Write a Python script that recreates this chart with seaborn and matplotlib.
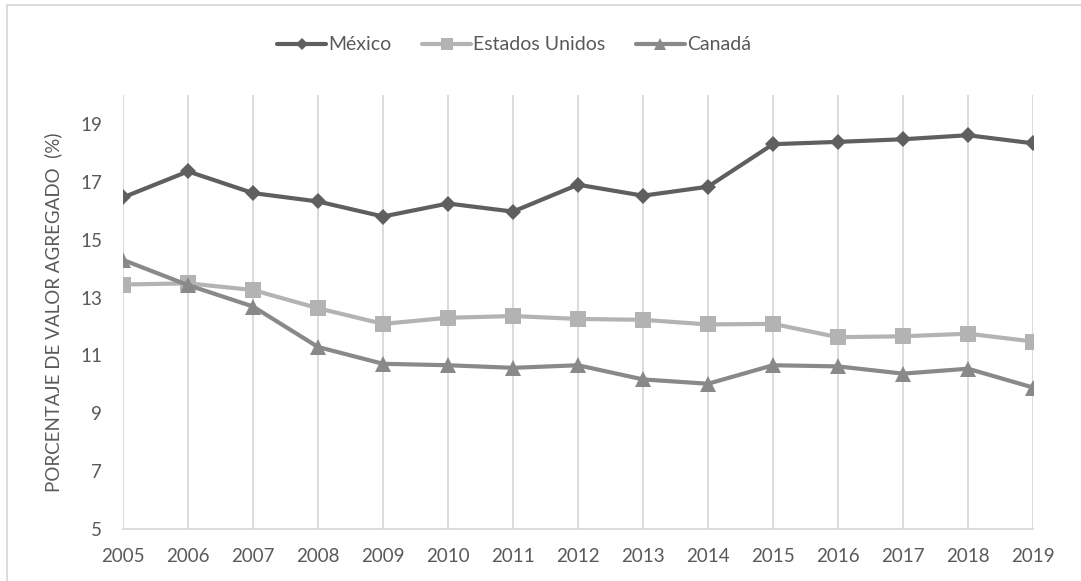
import matplotlib
matplotlib.use("Agg")
import matplotlib.pyplot as plt
from matplotlib.lines import Line2D
import seaborn as sns
import pandas as pd

# Value added share by country, 2005-2019 (%)
years = list(range(2005, 2020))
mexico = [16.46, 17.36, 16.61, 16.32, 15.80, 16.25, 15.97, 16.90,
          16.52, 16.83, 18.30, 18.38, 18.47, 18.61, 18.33]
estados_unidos = [13.45, 13.49, 13.26, 12.63, 12.09, 12.30, 12.36, 12.26,
                  12.23, 12.07, 12.09, 11.63, 11.66, 11.75, 11.48]
canada = [14.30, 13.43, 12.69, 11.29, 10.71, 10.66, 10.57, 10.66,
          10.17, 10.02, 10.66, 10.62, 10.37, 10.54, 9.89]
series_names = ["México", "Estados Unidos", "Canadá"]
y_ticks = [5, 7, 9, 11, 13, 15, 17, 19]

sns.set_theme(style="white")
plt.rcParams["font.family"] = ["Lato", "DejaVu Sans"]
TEXT = "#595959"
GRID = "#d9d9d9"

df = pd.DataFrame({
    "year": years * 3,
    "value": mexico + estados_unidos + canada,
    "country": [n for n in series_names for _ in years],
})

styles = {
    "México": dict(color="#5f5f5f", marker="D", ms=8.6),
    "Estados Unidos": dict(color="#b3b3b3", marker="s", ms=11.5),
    "Canadá": dict(color="#898989", marker="^", ms=12),
}

fig = plt.figure(figsize=(10.81, 5.81), dpi=100)
ax = fig.add_axes([123 / 1081, 1 - 529 / 581, (1033 - 123) / 1081, (529 - 95) / 581])

for name in series_names:
    st = styles[name]
    sns.lineplot(data=df[df["country"] == name], x="year", y="value",
                 color=st["color"], marker=st["marker"], markersize=st["ms"],
                 markeredgewidth=0, linewidth=3, ax=ax, legend=False,
                 zorder=3)

ax.set_xlim(2005, 2019)
ax.set_ylim(5, 20)
ax.set_xticks(years)
ax.set_xticklabels([str(y) for y in years])
ax.set_yticks(y_ticks)
ax.grid(axis="x", color=GRID, linewidth=1.3)
ax.grid(axis="y", visible=False)
for side in ["top", "right", "left"]:
    ax.spines[side].set_visible(False)
ax.spines["bottom"].set_color(GRID)
ax.spines["bottom"].set_linewidth(1.3)
ax.tick_params(axis="both", length=0, labelsize=13.5, colors=TEXT)
ax.tick_params(axis="y", pad=15)
ax.tick_params(axis="x", pad=14)
ax.set_xlabel("")
ax.set_ylabel("PORCENTAJE DE VALOR AGREGADO  (%)", fontsize=13.5, color=TEXT,
              labelpad=13)

handles = [Line2D([], [], color=styles[n]["color"], marker=styles[n]["marker"],
                  markersize=styles[n]["ms"] * 0.75, markeredgewidth=0,
                  linewidth=3) for n in series_names]
fig.legend(handles, series_names, loc="center", bbox_to_anchor=(514 / 1081, 1 - 45 / 581),
           ncol=3, frameon=False, fontsize=14, labelcolor=TEXT,
           handlelength=2.5, handletextpad=0.1, columnspacing=1.6)

# chart-area border
fig.add_artist(Line2D([7 / 1081, 1], [1 - 5 / 581, 1 - 5 / 581],
                      transform=fig.transFigure, color=GRID, linewidth=1.3))
fig.add_artist(Line2D([7 / 1081, 7 / 1081], [0, 1 - 5 / 581],
                      transform=fig.transFigure, color=GRID, linewidth=1.3))

fig.savefig("out.png", dpi=100, facecolor="white")
